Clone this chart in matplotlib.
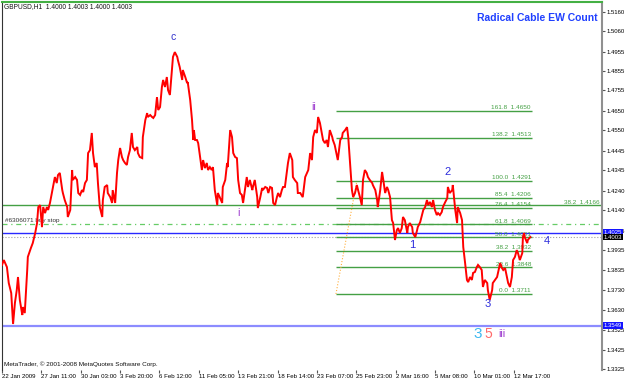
import matplotlib
matplotlib.use("Agg")
import matplotlib.pyplot as plt

# GBPUSD H1 close (bar number, price)
bars = [0, 3, 8, 11, 15, 18, 21, 24, 26, 29, 33, 34, 37, 41, 42, 47, 50, 54, 57, 59,
        62, 65, 67, 70, 73, 75, 78, 81, 83, 86, 89, 91, 94, 98, 99, 102, 106, 107, 111, 114,
        115, 119, 122, 124, 127, 130, 132, 135, 138, 140, 143, 146, 148, 151, 154, 156, 159, 163, 164, 167,
        171, 172, 176, 179, 180, 184, 187, 189, 192, 195, 197, 200, 203, 205, 208, 211, 213, 216, 220, 221,
        224, 228, 229, 233, 236, 237, 241, 244, 246, 249, 252, 254, 257, 260, 262, 265, 268, 270, 273, 276,
        278, 281, 285, 286, 289, 293, 294, 298, 301, 302, 306, 309, 311, 312, 314, 317, 319, 322, 325, 327,
        330, 333, 335, 338, 341, 343, 346, 350, 351, 354, 358, 359, 363, 366, 367, 371, 374, 376, 379, 382,
        384, 387, 390, 392, 395, 398, 400, 403, 407, 408, 411, 415, 416, 420, 423, 424, 428, 431, 433, 436,
        439, 441, 444, 447, 449, 452, 455, 457, 460, 463, 465, 468, 472, 473, 476, 480, 481, 485, 489, 493,
        498, 501, 504, 506, 509, 512, 514, 517, 520, 522, 525, 528, 530, 533, 537, 538, 541, 545, 546, 550,
        553, 554, 558, 561, 563, 566, 569, 571, 574, 577, 579, 582, 585, 587, 590, 593, 595, 598, 602, 603,
        607, 610, 611, 615, 618, 620, 623, 626, 628, 631, 634, 636, 639, 642, 644, 647, 650, 652, 655, 659,
        660, 663, 667, 668, 672, 675, 676, 680, 683, 685, 688, 691, 693, 696, 699, 701, 704, 707, 709, 712,
        715, 717, 720, 724, 725, 728, 732, 733, 737, 740, 741, 745, 748, 750, 753, 756, 758, 761, 764, 766,
        769, 772, 774, 777, 780, 782, 785, 789, 790, 793, 797, 798, 805, 810, 813, 815, 818, 821, 823, 826,
        829, 831, 834, 837, 839, 842, 846, 847, 849, 850, 854, 855, 859]
close = [1.3860, 1.3885, 1.3849, 1.3767, 1.3716, 1.3557, 1.3665, 1.3731, 1.3798, 1.3680,
         1.3603, 1.3644, 1.3613, 1.3834, 1.3901, 1.3947, 1.3972, 1.4024, 1.4075, 1.4157,
         1.4167, 1.4054, 1.4157, 1.4126, 1.4157, 1.4142, 1.4178, 1.4229, 1.4260, 1.4311,
         1.4280, 1.4321, 1.4332, 1.4244, 1.4229, 1.4193, 1.4157, 1.4106, 1.4142, 1.4347,
         1.4296, 1.4311, 1.4296, 1.4229, 1.4219, 1.4244, 1.4234, 1.4280, 1.4296, 1.4434,
         1.4449, 1.4537, 1.4434, 1.4362, 1.4383, 1.4280, 1.4157, 1.4106, 1.4193, 1.4260,
         1.4270, 1.4229, 1.4208, 1.4178, 1.4244, 1.4178, 1.4332, 1.4398, 1.4460, 1.4414,
         1.4398, 1.4383, 1.4373, 1.4414, 1.4449, 1.4537, 1.4465, 1.4449, 1.4465, 1.4434,
         1.4414, 1.4408, 1.4516, 1.4603, 1.4639, 1.4619, 1.4629, 1.4619, 1.4614, 1.4629,
         1.4721, 1.4655, 1.4670, 1.4773, 1.4809, 1.4773, 1.4824, 1.4757, 1.4732, 1.4845,
         1.4927, 1.4952, 1.4927, 1.4911, 1.4875, 1.4809, 1.4860, 1.4824, 1.4793, 1.4798,
         1.4706, 1.4603, 1.4501, 1.4552, 1.4501, 1.4501, 1.4485, 1.4414, 1.4347, 1.4398,
         1.4357, 1.4383, 1.4347, 1.4362, 1.4347, 1.4362, 1.4244, 1.4167, 1.4229, 1.4208,
         1.4178, 1.4260, 1.4296, 1.4383, 1.4362, 1.4552, 1.4516, 1.4434, 1.4414, 1.4408,
         1.4296, 1.4229, 1.4219, 1.4178, 1.4244, 1.4311, 1.4260, 1.4296, 1.4244, 1.4260,
         1.4296, 1.4208, 1.4152, 1.4208, 1.4255, 1.4244, 1.4260, 1.4255, 1.4229, 1.4260,
         1.4255, 1.4178, 1.4167, 1.4208, 1.4229, 1.4208, 1.4244, 1.4260, 1.4260, 1.4332,
         1.4383, 1.4434, 1.4398, 1.4311, 1.4296, 1.4280, 1.4229, 1.4229, 1.4208, 1.4311,
         1.4347, 1.4434, 1.4398, 1.4516, 1.4552, 1.4537, 1.4619, 1.4588, 1.4537, 1.4501,
         1.4485, 1.4501, 1.4465, 1.4552, 1.4516, 1.4501, 1.4475, 1.4414, 1.4398, 1.4501,
         1.4516, 1.4537, 1.4552, 1.4567, 1.4516, 1.4383, 1.4244, 1.4208, 1.4229, 1.4270,
         1.4244, 1.4208, 1.4167, 1.4296, 1.4347, 1.4332, 1.4311, 1.4296, 1.4280, 1.4270,
         1.4244, 1.4193, 1.4157, 1.4244, 1.4337, 1.4296, 1.4229, 1.4260, 1.4244, 1.4208,
         1.4090, 1.4075, 1.3988, 1.4039, 1.4049, 1.4024, 1.4049, 1.4106, 1.4090, 1.4024,
         1.4054, 1.4075, 1.4054, 1.4024, 1.4003, 1.4039, 1.4054, 1.4080, 1.4116, 1.4142,
         1.4157, 1.4193, 1.4167, 1.4183, 1.4157, 1.4193, 1.4142, 1.4116, 1.4126, 1.4116,
         1.4131, 1.4157, 1.4178, 1.4203, 1.4260, 1.4229, 1.4244, 1.4270, 1.4142, 1.4075,
         1.4157, 1.4126, 1.4090, 1.3952, 1.3870, 1.3783, 1.3772, 1.3798, 1.3783, 1.3819,
         1.3824, 1.3849, 1.3860, 1.3849, 1.3834, 1.3747, 1.3783, 1.3767, 1.3731, 1.3680,
         1.3731, 1.3767, 1.3798, 1.3870, 1.3844, 1.3834, 1.3844, 1.3798, 1.3767, 1.3747,
         1.3798, 1.3885, 1.3901, 1.3936, 1.3921, 1.3885, 1.3921, 1.4003, 1.4024, 1.4003,
         1.3972, 1.3988, 1.4003]

date_ticks = [0, 64, 128, 192, 256, 320, 384, 448, 512, 576, 640, 704, 768, 832]
date_labels = ['22 Jan 2009', '27 Jan 11:00', '30 Jan 03:00', '3 Feb 20:00', '6 Feb 12:00',
               '11 Feb 05:00', '13 Feb 21:00', '18 Feb 14:00', '23 Feb 07:00', '25 Feb 23:00',
               '2 Mar 16:00', '5 Mar 08:00', '10 Mar 01:00', '12 Mar 17:00']
price_ticks = [1.5160, 1.5060, 1.4955, 1.4855, 1.4755, 1.4650, 1.4550, 1.4445, 1.4345, 1.4240,
               1.4140, 1.4035, 1.3935, 1.3835, 1.3730, 1.3630, 1.3525, 1.3425, 1.3325]

# fibo retracement
fib_pct = ['161.8', '138.2', '100.0', '85.4', '76.4', '61.8', '50.0', '38.2', '23.6', '0.0']
fib_price = [1.4650, 1.4513, 1.4291, 1.4206, 1.4154, 1.4069, 1.4001, 1.3932, 1.3848, 1.3711]
fib_start, fib_end = 543, 862
fib_anchor_bars = [543, 577]
fib_anchor_prices = [1.3711, 1.4291]

long_fib_price = 1.4166
buy_stop = 1.4070
blue_level = 1.4025
bid = 1.4003
low_level = 1.3549

# wave labels: (text, bar, price, color, size)
waves = [('c', 278, 1.5029, '#3333cc', 7.5), ('ii', 506, 1.4672, '#9933cc', 7.5),
         ('i', 384, 1.4126, '#9933cc', 7.5), ('1', 667, 1.3962, '#2c2cdc', 8),
         ('2', 725, 1.4337, '#2c2cdc', 8), ('3', 789, 1.3659, '#2c2cdc', 8),
         ('4', 886, 1.3983, '#2c2cdc', 8), ('3', 774, 1.3506, '#3cb8f0', 11),
         ('5', 790, 1.3506, '#ff6a6a', 10), ('iii', 813, 1.3508, '#9933cc', 7.5)]

font = 'Liberation Sans'
plt.rcParams['font.family'] = [font, 'DejaVu Sans']

fig = plt.figure(figsize=(6.25, 3.81), dpi=100)
ax = fig.add_axes([2 / 625, 11 / 381, 600 / 625, 368 / 381])
ax.set_xlim(0, 975.6)
ax.set_ylim(1.3321, 1.5209)

green = '#44a044'
ax.axhline(long_fib_price, color=green, lw=1)
ax.text(972, long_fib_price + 0.0003, '38.2  1.4166', color=green, fontsize=4.6,
        ha='right', va='bottom')
ax.axhline(buy_stop, color='#66cc66', lw=0.9, ls=(0, (4, 3, 1, 3)))
ax.text(5, buy_stop + 0.0003, '#6306071 buy stop', color='#333333', fontsize=4.6,
        ha='left', va='bottom')
ax.axhline(blue_level, color='#2828ff', lw=1)
ax.axhline(bid, color='#a0a0a0', lw=0.8, ls=':')
ax.axhline(low_level, color='#8c8cff', lw=1.6)

ax.hlines(fib_price, fib_start, fib_end, color=green, lw=1)
for pct, pr in zip(fib_pct, fib_price):
    ax.text(fib_end - 2, pr + 0.0003, f'{pct}  {pr:.4f}', color=green, fontsize=4.6,
            ha='right', va='bottom')
ax.plot(fib_anchor_bars, fib_anchor_prices, color='#ffb040', lw=0.8, ls=':')

ax.plot(bars, close, color='#ff0000', lw=1.4, solid_joinstyle='miter', zorder=4)

for txt, b, pr, col, sz in waves:
    ax.text(b, pr, txt, color=col, fontsize=sz, ha='center', va='center', zorder=5)

ax.set_xticks(date_ticks)
ax.set_xticklabels(date_labels, ha='left', fontsize=4.4)
ax.yaxis.tick_right()
ax.set_yticks(price_ticks)
ax.set_yticklabels([f'{t:.4f}' for t in price_ticks], fontsize=4.3)
ax.tick_params(axis='x', length=2, pad=1, color='#555555')
ax.tick_params(axis='y', length=2, pad=1.5, color='#555555')

for pr, col in [(blue_level, '#1414ff'), (bid, '#000000'), (low_level, '#1414ff')]:
    ax.text(1.003, pr, f'{pr:.4f}', transform=ax.get_yaxis_transform(), color='white',
            fontsize=4.3, ha='left', va='center', clip_on=False, zorder=10,
            bbox=dict(boxstyle='square,pad=0.15', fc=col, ec='none'))

ax.spines['top'].set_color('#44b044')
ax.spines['top'].set_linewidth(1.5)
ax.spines['left'].set_color('#333333')
ax.spines['right'].set_color('#909090')
ax.spines['right'].set_linewidth(1.5)
ax.spines['bottom'].set_visible(False)

fig.text(4 / 625, 1 - 7 / 381, 'GBPUSD,H1  1.4000 1.4003 1.4000 1.4003', fontsize=4.8,
         va='center', color='#111111')
fig.text(598 / 625, 1 - 18 / 381, 'Radical Cable EW Count', fontsize=7.5, fontweight='bold',
         color='#2040ff', ha='right', va='center')
fig.text(4 / 625, 1 - 364 / 381, 'MetaTrader, \u00a9 2001-2008 MetaQuotes Software Corp.',
         fontsize=4.6, va='center', color='#111111')

fig.savefig('out.png', dpi=100)
